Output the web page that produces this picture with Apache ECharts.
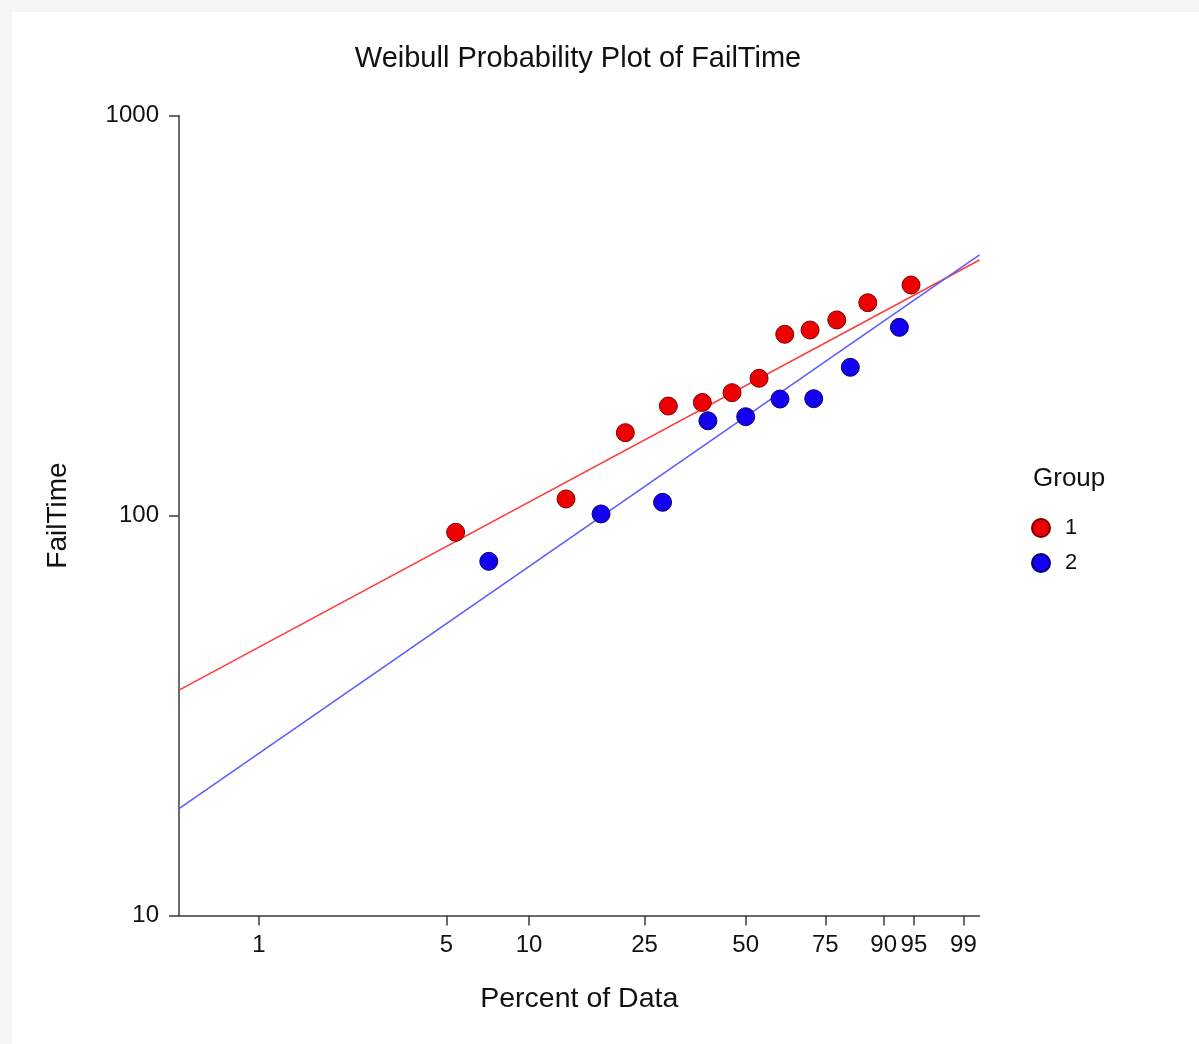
<!DOCTYPE html>
<html>
<head>
<meta charset="utf-8">
<script src="https://cdn.jsdelivr.net/npm/echarts@6/dist/echarts.min.js"></script>
<style>
html,body{margin:0;padding:0;background:#f5f5f5;}
#chart{position:absolute;left:12px;top:12px;width:1187px;height:1032px;background:#fff;}
</style>
</head>
<body>
<div id="chart"></div>
<script>
// ---- data ----
var groupNames = ['1', '2'];
var pct1  = [5.41, 13.52, 21.60, 29.79, 37.84, 45.97, 54.10, 62.23, 70.28, 78.36, 86.53, 94.61];
var fail1 = [90.8, 110.0, 161.1, 187.8, 191.7, 202.8, 220.3, 283.8, 290.9, 308.2, 340.4, 376.9];
var pct2  = [7.15, 17.88, 28.57, 39.29, 50.00, 60.71, 71.43, 82.14, 92.86];
var fail2 = [76.8, 100.9, 107.9, 172.5, 176.6, 195.5, 195.9, 234.7, 295.4];
var fitPct = [0.5, 99.5];
var fit1 = [36.6, 435.3];
var fit2 = [18.5, 448.0];
var xTickPct = [1, 5, 10, 25, 50, 75, 90, 95, 99];
var yTicks = [10, 100, 1000];
var xRangePct = [0.5, 99.5];

// Weibull probability scale transform
function wb(p) { return Math.log(-Math.log(1 - p / 100)); }
function pairs(px, py) { return px.map(function (p, i) { return [wb(p), py[i]]; }); }
var xTickW = xTickPct.map(wb);

var FONT = '"Liberation Sans", Arial, sans-serif';
var chart = echarts.init(document.getElementById('chart'));
chart.setOption({
  backgroundColor: '#ffffff',
  animation: false,
  title: [{
    text: 'Weibull Probability Plot of FailTime',
    left: 566, top: 32, textAlign: 'center', padding: 0,
    textStyle: { fontFamily: FONT, fontSize: 29, fontWeight: 'normal', color: '#111' }
  }, {
    text: 'Group',
    left: 1021, top: 454, padding: 0,
    textStyle: { fontFamily: FONT, fontSize: 26, fontWeight: 'normal', color: '#111' }
  }],
  legend: {
    data: groupNames,
    orient: 'vertical',
    left: 1019, top: 505,
    padding: 0,
    itemWidth: 18, itemHeight: 18, itemGap: 13,
    icon: 'circle',
    textStyle: { fontFamily: FONT, fontSize: 22, color: '#111', padding: [0, 0, 0, 10] }
  },
  grid: { left: 167, top: 103.5, width: 800.5, height: 800, containLabel: false },
  xAxis: {
    type: 'value',
    min: wb(xRangePct[0]), max: wb(xRangePct[1]),
    name: 'Percent of Data', nameLocation: 'middle', nameGap: 69,
    nameTextStyle: { fontFamily: FONT, fontSize: 28.5, color: '#111' },
    axisLine: { show: true, onZero: false, lineStyle: { color: '#3a3a3a', width: 1.5 } },
    axisTick: { show: true, length: 10, customValues: xTickW, lineStyle: { color: '#3a3a3a', width: 1.5 } },
    axisLabel: {
      customValues: xTickW, margin: 18,
      fontFamily: FONT, fontSize: 24, color: '#111',
      formatter: function (v) {
        var best = 0, d = Infinity;
        xTickW.forEach(function (w, i) { if (Math.abs(w - v) < d) { d = Math.abs(w - v); best = i; } });
        return String(xTickPct[best]);
      }
    },
    splitLine: { show: false }
  },
  yAxis: {
    type: 'log', logBase: 10, min: yTicks[0], max: yTicks[yTicks.length - 1],
    name: 'FailTime', nameLocation: 'middle', nameGap: 107, nameRotate: 90,
    nameTextStyle: { fontFamily: FONT, fontSize: 28, color: '#111' },
    axisLine: { show: true, onZero: false, lineStyle: { color: '#3a3a3a', width: 1.5 } },
    axisTick: { show: true, length: 10, lineStyle: { color: '#3a3a3a', width: 1.5 } },
    axisLabel: {
      margin: 20, fontFamily: FONT, fontSize: 24, color: '#111',
      formatter: function (v) { return String(Math.round(v)); }
    },
    splitLine: { show: false }
  },
  series: [{
    name: 'fit1', type: 'line', data: pairs(fitPct, fit1), symbol: 'none', silent: true,
    lineStyle: { color: '#ff3b3b', width: 1.5 }, z: 1
  }, {
    name: 'fit2', type: 'line', data: pairs(fitPct, fit2), symbol: 'none', silent: true,
    lineStyle: { color: '#5a5aff', width: 1.5 }, z: 1
  }, {
    name: groupNames[0], type: 'scatter', data: pairs(pct1, fail1), symbol: 'circle', symbolSize: 18,
    itemStyle: { color: '#ee0000', borderColor: '#7a0000', borderWidth: 1, opacity: 1 }, z: 3
  }, {
    name: groupNames[1], type: 'scatter', data: pairs(pct2, fail2), symbol: 'circle', symbolSize: 18,
    itemStyle: { color: '#1400f0', borderColor: '#0a0070', borderWidth: 1, opacity: 1 }, z: 3
  }]
});
</script>
</body>
</html>
